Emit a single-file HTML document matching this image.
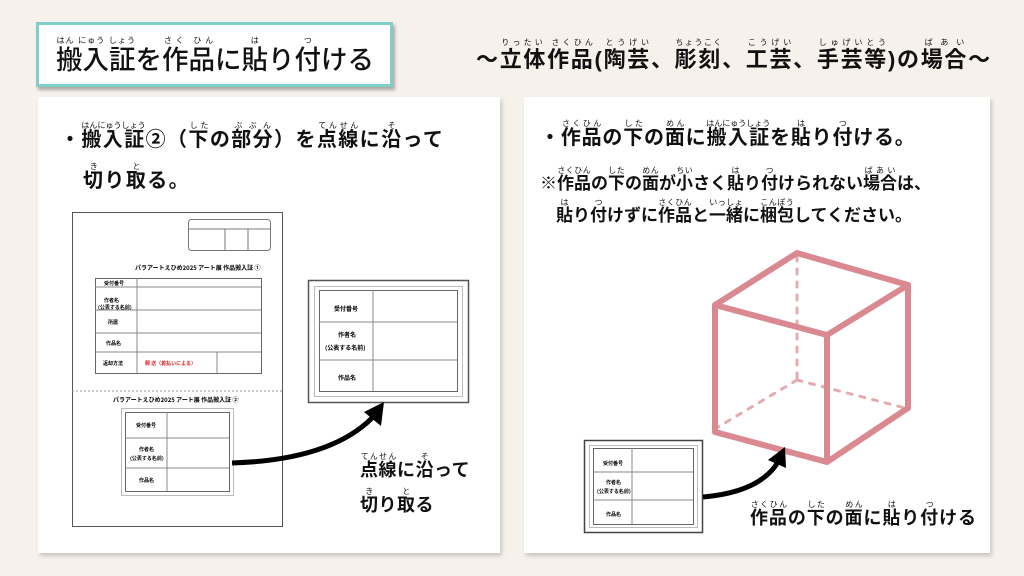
<!DOCTYPE html>
<html><head><meta charset="utf-8">
<style>
*{margin:0;padding:0;box-sizing:border-box}
body{width:1024px;height:576px;background:#f7f1ec;position:relative;overflow:hidden;font-family:"Liberation Sans","Noto Sans CJK JP",sans-serif;color:#111}
.abs{position:absolute;white-space:nowrap;line-height:1}
rt{font-size:8px;font-weight:normal;line-height:1;letter-spacing:0}
ruby{ruby-position:over}
.panel{position:absolute;background:#fff;box-shadow:2px 3px 4px rgba(0,0,0,.18)}
.b{font-weight:bold}
</style></head><body>
<div style="position:absolute;left:36px;top:22px;width:357px;height:65px;background:#fff;border:3px solid #7fcfc8;box-shadow:2px 3px 3px rgba(0,0,0,.3)"></div>
<div class="abs" style="left:56px;top:36px;font-size:26.5px;font-weight:500"><ruby>搬入証<rt>はん にゅう しょう</rt></ruby>を<ruby>作品<rt>さく ひん</rt></ruby>に<ruby>貼<rt>は</rt></ruby>り<ruby>付<rt>つ</rt></ruby>ける</div>
<div class="abs b" style="left:476px;top:38px;font-size:22px;letter-spacing:1.7px"><span>～</span><ruby>立体作品<rt>りったい さくひん</rt></ruby>(<ruby>陶芸<rt>とうげい</rt></ruby>、<ruby>彫刻<rt>ちょうこく</rt></ruby>、<ruby>工芸<rt>こうげい</rt></ruby>、<ruby>手芸等<rt>しゅげいとう</rt></ruby>)の<ruby>場合<rt>ばあい</rt></ruby>～</div>

<div class="panel" style="left:38px;top:97px;width:462px;height:456px"></div>
<div class="panel" style="left:524px;top:97px;width:466px;height:456px"></div>

<div class="abs b" style="left:60px;top:121px;font-size:20px;letter-spacing:1.4px">・<ruby>搬入証<rt>はんにゅうしょう</rt></ruby>②（<ruby>下<rt>した</rt></ruby>の<ruby>部分<rt>ぶぶん</rt></ruby>）を<ruby>点線<rt>てんせん</rt></ruby>に<ruby>沿<rt>そ</rt></ruby>って</div>
<div class="abs b" style="left:83px;top:162px;font-size:20px;letter-spacing:1.4px"><ruby>切<rt>き</rt></ruby>り<ruby>取<rt>と</rt></ruby>る。</div>

<svg class="abs" style="left:0;top:0" width="1024" height="576">
<rect x="72.5" y="212.5" width="210" height="314" fill="#fff" stroke="#555" stroke-width="1"/>
<rect x="188.5" y="219.5" width="82" height="31" rx="3" fill="none" stroke="#777"/>
<line x1="188" y1="229" x2="270" y2="229" stroke="#777"/>
<line x1="225" y1="229" x2="225" y2="250" stroke="#777"/><line x1="248" y1="229" x2="248" y2="250" stroke="#777"/>
<text x="135" y="270" font-size="6" font-weight="bold" font-family="Noto Sans CJK JP">パラアートえひめ2025 アート展 作品搬入証 ①</text>
<rect x="95.5" y="278.5" width="166" height="95" fill="none" stroke="#666"/>
<g stroke="#888"><line x1="95" y1="287" x2="261" y2="287"/><line x1="95" y1="310" x2="261" y2="310"/><line x1="95" y1="333" x2="261" y2="333"/><line x1="95" y1="352" x2="261" y2="352"/>
<line x1="137" y1="278" x2="137" y2="373"/><line x1="217" y1="352" x2="217" y2="373"/></g>
<g font-size="5" font-weight="bold" font-family="Noto Sans CJK JP"><text x="104" y="285">受付番号</text><text x="104" y="302">作者名</text><text x="98" y="309">(公表する名前)</text><text x="108" y="324">所属</text><text x="106" y="345">作品名</text><text x="103" y="365">返却方法</text><text x="145" y="365" fill="#d22">郵 送（着払いによる）</text></g>
<line x1="72" y1="391" x2="283" y2="391" stroke="#999" stroke-dasharray="2,2"/>
<text x="113" y="402" font-size="6" font-weight="bold" font-family="Noto Sans CJK JP">パラアートえひめ2025 アート展 作品搬入証 ②</text>
<rect x="121.5" y="408.5" width="112" height="87" fill="none" stroke="#bbb"/>
<rect x="125.5" y="412.5" width="104" height="79" fill="none" stroke="#666"/>
<g stroke="#888"><line x1="125" y1="438" x2="229" y2="438"/><line x1="125" y1="468" x2="229" y2="468"/><line x1="167" y1="412" x2="167" y2="491"/></g>
<g font-size="5" font-weight="bold" font-family="Noto Sans CJK JP"><text x="136" y="427">受付番号</text><text x="139" y="451">作者名</text><text x="130" y="460">(公表する名前)</text><text x="139" y="482">作品名</text></g>
<rect x="308.5" y="280.5" width="160" height="122" fill="#fff" stroke="#555" stroke-width="1.5"/>
<rect x="314.5" y="286.5" width="148" height="110" fill="none" stroke="#bbb"/>
<rect x="319.5" y="290.5" width="138" height="101" fill="none" stroke="#666"/>
<g stroke="#888"><line x1="319" y1="322" x2="457" y2="322"/><line x1="319" y1="360" x2="457" y2="360"/><line x1="373" y1="290" x2="373" y2="391"/></g>
<g font-size="6" font-weight="bold" font-family="Noto Sans CJK JP"><text x="334" y="311">受付番号</text><text x="338" y="337">作者名</text><text x="325" y="350">(公表する名前)</text><text x="338" y="380">作品名</text></g>
<path d="M232 463 Q330 460 372 418" fill="none" stroke="#000" stroke-width="5"/>
<polygon points="384,402 364,412 381,426" fill="#000"/>

<g stroke="#d9898f" stroke-linecap="round" stroke-linejoin="round" fill="none">
<g stroke-width="3" stroke-dasharray="5,8" opacity=".7"><line x1="797" y1="256" x2="797" y2="380"/><line x1="797" y1="380" x2="718" y2="427"/><line x1="797" y1="380" x2="905" y2="408"/></g>
<g stroke-width="6"><polygon points="715,305 797,253 908,285 827,335"/><line x1="715" y1="305" x2="715" y2="432"/><line x1="908" y1="285" x2="908" y2="408"/><line x1="827" y1="335" x2="827" y2="462"/><polyline points="715,432 827,462 908,408"/></g>
</g>
<rect x="584.5" y="440.5" width="118" height="92" fill="#fff" stroke="#444" stroke-width="1.5"/>
<rect x="589.5" y="445.5" width="108" height="82" fill="none" stroke="#bbb"/>
<rect x="593.5" y="448.5" width="100" height="76" fill="none" stroke="#666"/>
<g stroke="#888"><line x1="593" y1="472" x2="693" y2="472"/><line x1="593" y1="500" x2="693" y2="500"/><line x1="632" y1="448" x2="632" y2="524"/></g>
<g font-size="5" font-weight="bold" font-family="Noto Sans CJK JP"><text x="603" y="465">受付番号</text><text x="606" y="484">作者名</text><text x="597" y="493">(公表する名前)</text><text x="606" y="516">作品名</text></g>
<path d="M703 497 Q760 492 778 462" fill="none" stroke="#000" stroke-width="5"/>
<polygon points="785,447 768,460 786,468" fill="#000"/>
</svg>

<div class="abs b" style="left:360px;top:452px;font-size:18px;letter-spacing:.5px"><ruby>点線<rt>てんせん</rt></ruby>に<ruby>沿<rt>そ</rt></ruby>って</div>
<div class="abs b" style="left:360px;top:487px;font-size:18px;letter-spacing:.5px"><ruby>切<rt>き</rt></ruby>り<ruby>取<rt>と</rt></ruby>る</div>

<div class="abs b" style="left:540px;top:119px;font-size:20px;letter-spacing:.8px">・<ruby>作品<rt>さくひん</rt></ruby>の<ruby>下<rt>した</rt></ruby>の<ruby>面<rt>めん</rt></ruby>に<ruby>搬入証<rt>はんにゅうしょう</rt></ruby>を<ruby>貼<rt>は</rt></ruby>り<ruby>付<rt>つ</rt></ruby>ける。</div>
<div class="abs b" style="left:540px;top:166px;font-size:17px">※<ruby>作品<rt>さくひん</rt></ruby>の<ruby>下<rt>した</rt></ruby>の<ruby>面<rt>めん</rt></ruby>が<ruby>小<rt>ちい</rt></ruby>さく<ruby>貼<rt>は</rt></ruby>り<ruby>付<rt>つ</rt></ruby>けられない<ruby>場合<rt>ばあい</rt></ruby>は、</div>
<div class="abs b" style="left:556px;top:198px;font-size:17px"><ruby>貼<rt>は</rt></ruby>り<ruby>付<rt>つ</rt></ruby>けずに<ruby>作品<rt>さくひん</rt></ruby>と<ruby>一緒<rt>いっしょ</rt></ruby>に<ruby>梱包<rt>こんぽう</rt></ruby>してください。</div>
<div class="abs b" style="left:750px;top:500px;font-size:18px;letter-spacing:.9px"><ruby>作品<rt>さくひん</rt></ruby>の<ruby>下<rt>した</rt></ruby>の<ruby>面<rt>めん</rt></ruby>に<ruby>貼<rt>は</rt></ruby>り<ruby>付<rt>つ</rt></ruby>ける</div>
</body></html>
